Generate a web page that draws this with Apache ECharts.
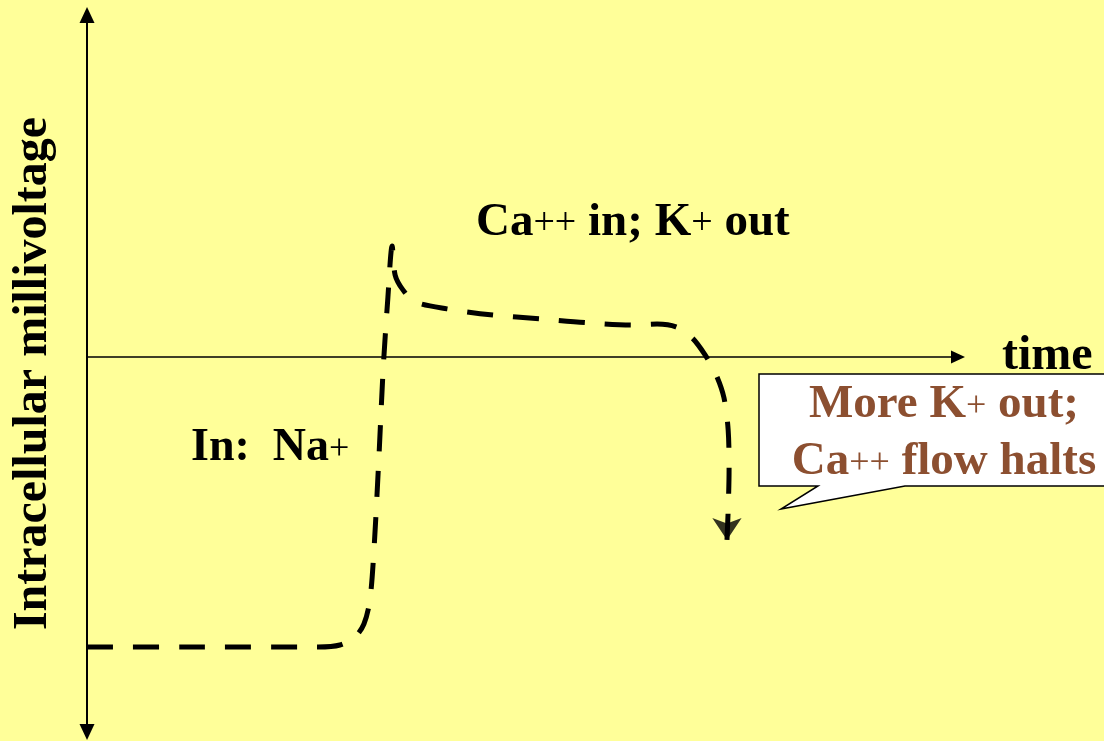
<!DOCTYPE html>
<html>
<head>
<meta charset="utf-8">
<script src="https://cdn.jsdelivr.net/npm/echarts@6/dist/echarts.min.js"></script>
<style>
  html, body { margin: 0; padding: 0; background: #FFFF99; }
  #chart { width: 1104px; height: 741px; }
</style>
</head>
<body>
<div id="chart"></div>
<script>
// action potential trace (time in ms, voltage in mV)
const timeMs = [0, 37.7, 77, 84.3, 89.3, 92.3, 94.3, 95.7, 97.3, 98.7, 100.3, 101.7, 102.7, 105.3,
  109.3, 120, 135.3, 151, 166.7, 182, 190, 196.3, 201.7, 206, 209.7, 212.3, 213.7, 214, 213.7, 213.3];
const milliVolts = [-90, -90, -90, -89.4, -86.9, -82.9, -75.4, -59, -31, -4, 18.6, 34.4, 25.4, 20.8,
  17.1, 14.9, 13, 11.8, 10.6, 9.9, 10.2, 9.3, 5.9, 0.6, -5.6, -12.7, -22.7, -35.1, -47.5, -56.8];

const yTitle = 'Intracellular millivoltage';
const xTitle = 'time';

const serif = '"Liberation Serif", "Times New Roman", serif';
const brown = '#8C4F30';

const trace = timeMs.map(function (t, i) { return [t, milliVolts[i]]; });
const lastPoint = trace[trace.length - 1];

const myChart = echarts.init(document.getElementById('chart'));

const option = {
  backgroundColor: '#FFFF99',
  animation: false,
  grid: {
    left: 87,
    right: 146,
    top: 15,
    bottom: 9,
    containLabel: false,
    outerBoundsMode: 'none'
  },
  xAxis: {
    type: 'value',
    min: 0,
    max: 290.3,
    name: xTitle,
    nameLocation: 'end',
    nameGap: 44,
    nameMoveOverlap: false,
    nameTextStyle: {
      fontFamily: serif,
      fontWeight: 'bold',
      fontSize: 48,
      color: '#000',
      verticalAlign: 'middle',
      padding: [0, 0, 10, 0],
      textShadowColor: '#9a9a9a',
      textShadowOffsetX: 2,
      textShadowOffsetY: 2
    },
    axisLine: {
      onZero: true,
      symbol: ['none', 'triangle'],
      symbolSize: [13, 14],
      lineStyle: { color: '#000', width: 1.5 }
    },
    axisTick: { show: false },
    axisLabel: { show: false },
    splitLine: { show: false }
  },
  yAxis: {
    type: 'value',
    min: -116.4,
    max: 106.1,
    name: yTitle,
    nameLocation: 'middle',
    nameRotate: 90,
    nameGap: 29,
    nameMoveOverlap: false,
    nameTextStyle: {
      fontFamily: serif,
      fontWeight: 'bold',
      fontSize: 48,
      color: '#000',
      textShadowColor: '#9a9a9a',
      textShadowOffsetX: 2,
      textShadowOffsetY: 2
    },
    axisLine: {
      onZero: false,
      symbol: ['triangle', 'triangle'],
      symbolSize: [15, 16],
      lineStyle: { color: '#000', width: 2 }
    },
    axisTick: { show: false },
    axisLabel: { show: false },
    splitLine: { show: false }
  },
  series: [{
    type: 'line',
    data: trace,
    smooth: 0.3,
    showSymbol: false,
    clip: false,
    lineStyle: { color: '#000', width: 5, type: [26, 20], cap: 'butt' }
  }, {
    type: 'scatter',
    data: [lastPoint],
    symbol: 'arrow',
    symbolRotate: 180,
    symbolSize: [22, 22],
    itemStyle: { color: '#000' }
  }],
  graphic: [{
    type: 'text',
    x: 476,
    y: 223,
    style: {
      text: '{b|Ca}{s|++}{b| in; K}{s|+}{b| out}',
      verticalAlign: 'middle',
      rich: {
        b: { fontFamily: serif, fontWeight: 'bold', fontSize: 47, fill: '#000', verticalAlign: 'bottom' },
        s: { fontFamily: serif, fontSize: 38, fill: '#000', verticalAlign: 'bottom', padding: [0, 0, 3, 0] }
      }
    }
  }, {
    type: 'text',
    x: 191,
    y: 448,
    style: {
      text: '{b|In:  Na}{s|+}',
      verticalAlign: 'middle',
      rich: {
        b: { fontFamily: serif, fontWeight: 'bold', fontSize: 46, fill: '#000', verticalAlign: 'bottom' },
        s: { fontFamily: serif, fontSize: 36, fill: '#000', verticalAlign: 'bottom', padding: [0, 0, 3, 0] }
      }
    }
  }, {
    type: 'polygon',
    shape: {
      points: [[759, 374], [1110, 374], [1110, 486], [905, 486], [781, 509], [818, 486], [759, 486]]
    },
    style: { fill: '#fff', stroke: '#000', lineWidth: 1.5 }
  }, {
    type: 'text',
    x: 944,
    y: 428,
    style: {
      text: '{b|More K}{s|+}{b| out;}\n{b|Ca}{s|++}{b| flow halts}',
      align: 'center',
      verticalAlign: 'middle',
      rich: {
        b: { fontFamily: serif, fontWeight: 'bold', fontSize: 47, fill: brown, lineHeight: 57, verticalAlign: 'bottom' },
        s: { fontFamily: serif, fontSize: 36, fill: brown, lineHeight: 57, verticalAlign: 'bottom', padding: [0, 0, 3, 0] }
      }
    }
  }]
};

myChart.setOption(option);
</script>
</body>
</html>
